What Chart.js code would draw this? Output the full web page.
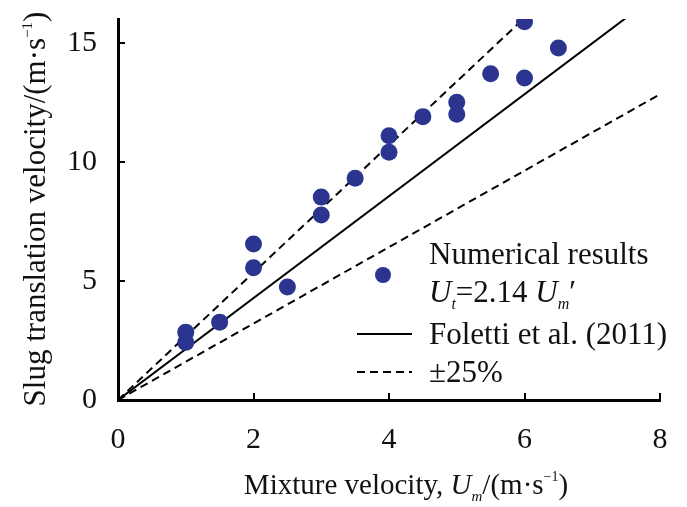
<!DOCTYPE html>
<html>
<head>
<meta charset="utf-8">
<script src="https://cdn.jsdelivr.net/npm/chart.js@4.4.1/dist/chart.umd.min.js"></script>
<style>
html,body{margin:0;padding:0;background:#fff;}
#wrap{width:687px;height:507px;position:relative;}
</style>
</head>
<body>
<div id="wrap"><canvas id="c" width="687" height="507"></canvas></div>
<script>
// Numerical results (mixture velocity Um, slug translation velocity Ut)
const mixtureVelocity = [1, 1, 1.5, 2, 2, 2.5, 3, 3, 3.5, 4, 4, 4.5, 5, 5, 5.5, 6, 6, 6.5];
const translationVelocity = [2.85, 2.42, 3.27, 6.55, 5.55, 4.75, 8.52, 7.77, 9.31, 11.1, 10.4, 11.9, 12.5, 12.0, 13.7, 15.88, 13.52, 14.78];
// Correlation Ut = 2.14 Um and ±25%
const foletti = [{x: 0, y: 0}, {x: 7.5, y: 16.05}];
const upper25 = [{x: 0, y: 0}, {x: 6, y: 16.05}];
const lower25 = [{x: 0, y: 0}, {x: 8, y: 12.84}];
const xTicks = [0, 2, 4, 6, 8];
const yTicks = [0, 5, 10, 15];

const SERIF = '"Liberation Serif", "Times New Roman", serif';
const FS = 30;
const LFS = 31;
const dotColor = '#2b3590';

const points = mixtureVelocity.map((x, i) => ({x, y: translationVelocity[i]}));

function drawRich(ctx, segs, x, y, base) {
  let cx = x;
  for (const s of segs) {
    const size = s.size || base;
    ctx.font = (s.italic ? 'italic ' : '') + size + 'px ' + SERIF;
    let dy = 0;
    if (s.sub) dy = 7;
    if (s.sup) dy = -13;
    ctx.fillText(s.t, cx, y + dy);
    cx += ctx.measureText(s.t).width + (s.after || 0);
  }
  return cx;
}
function richWidth(ctx, segs, base) {
  let w = 0;
  for (const s of segs) {
    const size = s.size || base;
    ctx.font = (s.italic ? 'italic ' : '') + size + 'px ' + SERIF;
    w += ctx.measureText(s.t).width + (s.after || 0);
  }
  return w;
}

const decor = {
  id: 'decor',
  afterDraw(chart) {
    const ctx = chart.ctx;
    const xs = chart.scales.x, ys = chart.scales.y;
    ctx.save();
    // inward ticks
    ctx.strokeStyle = '#000';
    ctx.lineWidth = 2;
    ctx.beginPath();
    for (const v of yTicks) {
      if (v === 0) continue;
      const py = Math.round(ys.getPixelForValue(v));
      ctx.moveTo(xs.left, py); ctx.lineTo(xs.left + 7, py);
    }
    for (const v of xTicks) {
      if (v === 0) continue;
      const px = Math.round(xs.getPixelForValue(v));
      ctx.moveTo(px, ys.bottom); ctx.lineTo(px, ys.bottom - 7);
    }
    ctx.stroke();

    ctx.fillStyle = '#111';
    ctx.textBaseline = 'alphabetic';
    ctx.textAlign = 'left';
    // x title
    const XF = 29;
    const xt = [
      {t: 'Mixture velocity, '},
      {t: 'U', italic: true},
      {t: 'm', italic: true, sub: true, size: 15},
      {t: '/(m·s'},
      {t: '−1', sup: true, size: 14},
      {t: ')'}
    ];
    const xw = richWidth(ctx, xt, XF);
    drawRich(ctx, xt, 406 - xw / 2, 494, XF);
    // y title
    ctx.save();
    ctx.translate(45, 209);
    ctx.rotate(-Math.PI / 2);
    const yt = [
      {t: 'Slug translation velocity/(m·s'},
      {t: '−1', sup: true, size: 15},
      {t: ')'}
    ];
    const yw = richWidth(ctx, yt, LFS);
    drawRich(ctx, yt, -yw / 2, 0, LFS);
    ctx.restore();

    // legend
    const lx = 429;
    ctx.font = LFS + 'px ' + SERIF;
    ctx.fillText('Numerical results', lx, 264);
    drawRich(ctx, [
      {t: 'U', italic: true},
      {t: 't', italic: true, sub: true, size: 16},
      {t: '=2.14 '},
      {t: 'U', italic: true},
      {t: 'm', italic: true, sub: true, size: 16},
      {t: '′'}
    ], lx, 302, LFS);
    ctx.font = LFS + 'px ' + SERIF;
    ctx.fillText('Foletti et al. (2011)', lx, 344);
    ctx.fillText('±25%', lx, 382);
    // legend symbols
    ctx.fillStyle = dotColor;
    ctx.beginPath(); ctx.arc(383, 275, 8, 0, Math.PI * 2); ctx.fill();
    ctx.strokeStyle = '#000';
    ctx.lineWidth = 2;
    ctx.beginPath(); ctx.moveTo(357, 334); ctx.lineTo(412, 334); ctx.stroke();
    ctx.setLineDash([8, 5]);
    ctx.beginPath(); ctx.moveTo(357, 372); ctx.lineTo(412, 372); ctx.stroke();
    ctx.restore();
  }
};

new Chart(document.getElementById('c'), {
  type: 'scatter',
  data: {
    datasets: [
      {label: 'Numerical results', data: points, backgroundColor: dotColor, borderColor: dotColor, pointRadius: 8.5, pointHoverRadius: 8.5, borderWidth: 0, order: 0},
      {label: 'Foletti et al. (2011)', type: 'line', data: foletti, borderColor: '#000', borderWidth: 2, pointRadius: 0, fill: false, order: 1},
      {label: '+25%', type: 'line', data: upper25, borderColor: '#000', borderWidth: 2, borderDash: [8, 5], pointRadius: 0, fill: false, order: 1},
      {label: '-25%', type: 'line', data: lower25, borderColor: '#000', borderWidth: 2, borderDash: [8, 5], pointRadius: 0, fill: false, order: 1}
    ]
  },
  options: {
    responsive: false,
    animation: false,
    events: [],
    layout: {padding: {left: 0, right: 27, top: 19, bottom: 0}},
    plugins: {legend: {display: false}, tooltip: {enabled: false}},
    scales: {
      x: {
        type: 'linear', min: 0, max: 8,
        afterBuildTicks: s => { s.ticks = xTicks.map(v => ({value: v})); },
        afterFit: s => { s.height = 107; s.paddingLeft = 0; s.paddingRight = 0; },
        grid: {display: false, drawTicks: false},
        border: {display: true, color: '#000', width: 3},
        ticks: {padding: 22, color: '#111', font: {family: SERIF, size: FS}}
      },
      y: {
        type: 'linear', min: 0, max: 16,
        afterBuildTicks: s => { s.ticks = yTicks.map(v => ({value: v})); },
        afterFit: s => { s.width = 118; s.paddingTop = 0; s.paddingBottom = 0; },
        grid: {display: false, drawTicks: false},
        border: {display: true, color: '#000', width: 3},
        ticks: {padding: 21, color: '#111', font: {family: SERIF, size: FS}}
      }
    }
  },
  plugins: [decor]
});
</script>
</body>
</html>
